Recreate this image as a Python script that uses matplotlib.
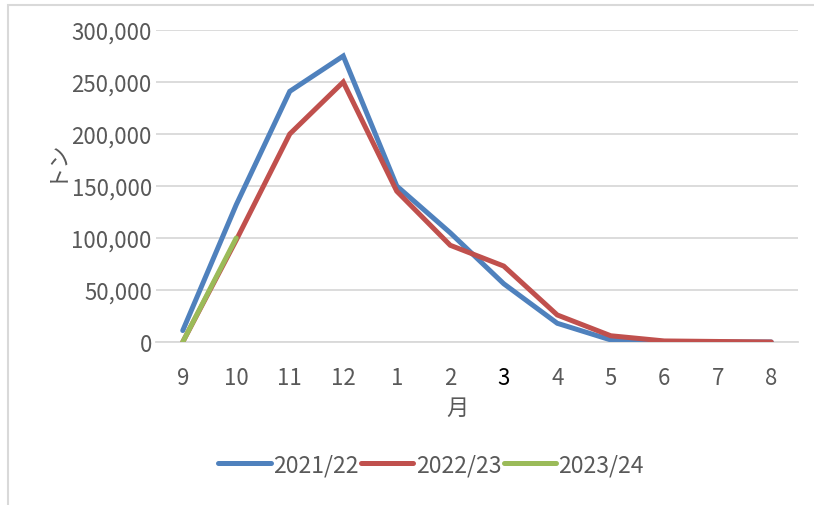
import matplotlib
matplotlib.use("Agg")
import matplotlib.pyplot as plt
from matplotlib.patches import Rectangle
from matplotlib.ticker import FuncFormatter

plt.rcParams['font.family'] = ['Noto Sans CJK JP', 'DejaVu Sans']

months = ["9", "10", "11", "12", "1", "2", "3", "4", "5", "6", "7", "8"]
s2021 = [11000, 132000, 241000, 275000, 150000, 105000, 56000, 18000, 2000, 0, 0, 0]
s2022 = [0, 98000, 200000, 250000, 145000, 93000, 73000, 26000, 6000, 1000, 500, 0]
s2023 = [0, 100000]
series_names = ["2021/22", "2022/23", "2023/24"]
colors = ["#4f81bd", "#c0504d", "#9bbb59"]
yticks = [0, 50000, 100000, 150000, 200000, 250000, 300000]

fig = plt.figure(figsize=(8.14, 5.06), dpi=100)
ax = fig.add_axes([156/814, 1-343/506, 642/814, 312/506])

x = list(range(len(months)))
lw = 3.6
ax.plot(x, s2021, color=colors[0], lw=lw, solid_capstyle='round', solid_joinstyle='miter', label=series_names[0], zorder=3)
ax.plot(x, s2022, color=colors[1], lw=lw, solid_capstyle='round', solid_joinstyle='miter', label=series_names[1], zorder=3)
ax.plot(x[:len(s2023)], s2023, color=colors[2], lw=lw, solid_capstyle='round', solid_joinstyle='miter', label=series_names[2], zorder=4)

ax.set_xlim(-0.5, len(months) - 0.5)
ax.set_ylim(0, 300000)
ax.set_yticks(yticks)
ax.yaxis.set_major_formatter(FuncFormatter(lambda v, p: f"{int(v):,}"))
ax.set_xticks(x)
ax.set_xticklabels(months)
ax.tick_params(axis='both', length=0, labelsize=16, colors="#595959")
for lab in ax.get_xticklabels():
    if lab.get_text() == "3":
        lab.set_color("#000000")
ax.tick_params(axis='x', pad=17)
ax.tick_params(axis='y', pad=3)

ax.grid(axis='y', color="#d9d9d9", lw=1.3)
ax.set_axisbelow(True)
for s in ["top", "right", "left"]:
    ax.spines[s].set_visible(False)
ax.spines["bottom"].set_color("#d9d9d9")
ax.spines["bottom"].set_linewidth(1.3)

ax.set_xlabel("月", fontsize=16, color="#595959", va="center")
ax.xaxis.set_label_coords((457-156)/642, (343-408)/312)
ax.set_ylabel("トン", fontsize=16, color="#595959", va="center")
ax.yaxis.set_label_coords((53-156)/642, (343-160)/312)

leg = fig.legend(loc="center", bbox_to_anchor=(431/814, 1-466/506), ncol=3, frameon=False,
                 fontsize=16.5, handlelength=2.3, columnspacing=0.1, handletextpad=0.1)
for t in leg.get_texts():
    t.set_color("#595959")

fig.patches.append(Rectangle((8/814, -0.1), 1.2, 1-6/506+0.1, transform=fig.transFigure,
                             fill=False, edgecolor="#d9d9d9", lw=1.5))

fig.savefig("out.png", dpi=100)
